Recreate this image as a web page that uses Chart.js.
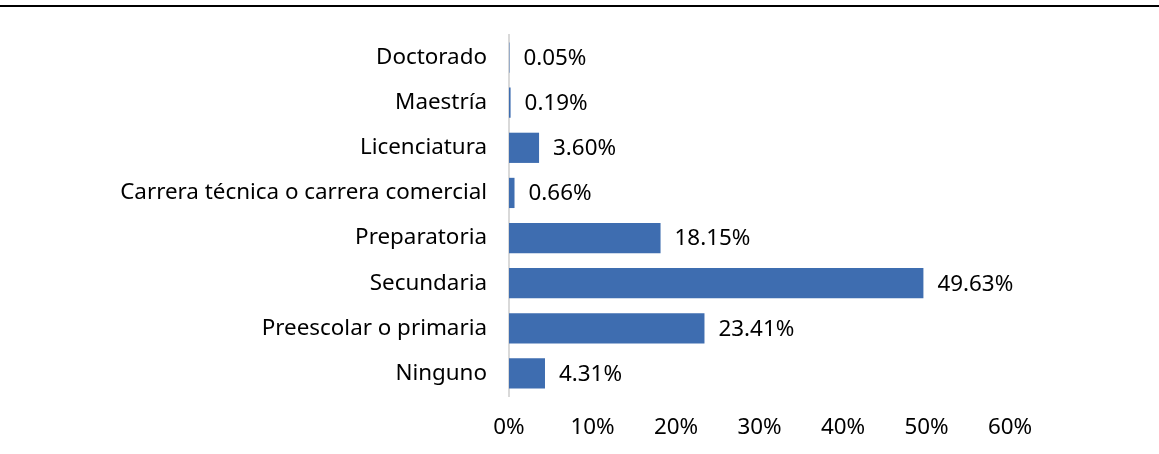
<!DOCTYPE html>
<html>
<head>
<meta charset="utf-8">
<script src="https://cdn.jsdelivr.net/npm/chart.js@4.4.0/dist/chart.umd.min.js"></script>
<style>
    html, body { margin: 0; padding: 0; background: #fff; }
    #wrap { position: relative; width: 1159px; height: 454px; }
    #topline { position: absolute; left: 0; top: 5px; width: 1159px; height: 2px; background: #000; }
</style>
</head>
<body>
<div id="wrap">
    <div id="topline"></div>
    <canvas id="myChart" width="1159" height="454"></canvas>
</div>
<script>
// categories and values (percent), top to bottom as in the picture
var categories = ['Doctorado', 'Maestría', 'Licenciatura', 'Carrera técnica o carrera comercial',
    'Preparatoria', 'Secundaria', 'Preescolar o primaria', 'Ninguno'];
var values = [0.05, 0.19, 3.60, 0.66, 18.15, 49.63, 23.41, 4.31];
var xTicks = [0, 10, 20, 30, 40, 50, 60];

var FONT = "'Noto Sans', 'Open Sans', sans-serif";
var FSIZE = 22.4;

// draws the value next to each bar
const valueLabels = {
    id: 'valueLabels',
    afterDatasetsDraw(chart) {
        const ctx = chart.ctx;
        const meta = chart.getDatasetMeta(0);
        ctx.save();
        ctx.font = FSIZE + 'px ' + FONT;
        ctx.fillStyle = '#000';
        ctx.textAlign = 'left';
        ctx.textBaseline = 'middle';
        meta.data.forEach(function(bar, i) {
            ctx.fillText(values[i].toFixed(2) + '%', bar.x + 14, bar.y + 1);
        });
        ctx.restore();
    }
};

function displayGraph() {
    var grapharea = document.getElementById('myChart');
    const data = {
        labels: categories,
        datasets: [{
            data: values,
            backgroundColor: '#3e6db0',
            barPercentage: 0.67,
            categoryPercentage: 1.0
        }]
    };
    const config = {
        type: 'bar',
        data: data,
        options: {
            indexAxis: 'y',
            responsive: false,
            animation: false,
            layout: { padding: { left: 0, right: 149, top: 35, bottom: 0 } },
            plugins: { legend: { display: false }, tooltip: { enabled: false } },
            scales: {
                x: {
                    min: 0,
                    max: 60,
                    afterBuildTicks: function(scale) {
                        scale.ticks = xTicks.map(function(v) { return { value: v }; });
                    },
                    afterFit: function(scale) { scale.height = 58; },
                    grid: { display: false },
                    border: { display: false },
                    ticks: {
                        padding: 10,
                        color: '#000',
                        font: { family: FONT, size: FSIZE },
                        callback: function(v) { return v + '%'; }
                    }
                },
                y: {
                    afterFit: function(scale) { scale.width = 509; },
                    grid: { display: false },
                    border: { display: true, color: '#d9d9d9', width: 2 },
                    ticks: {
                        padding: 14,
                        color: '#000',
                        font: { family: FONT, size: FSIZE }
                    }
                }
            }
        },
        plugins: [valueLabels]
    };
    const myChart = new Chart(grapharea, config);
}

displayGraph();
</script>
</body>
</html>
